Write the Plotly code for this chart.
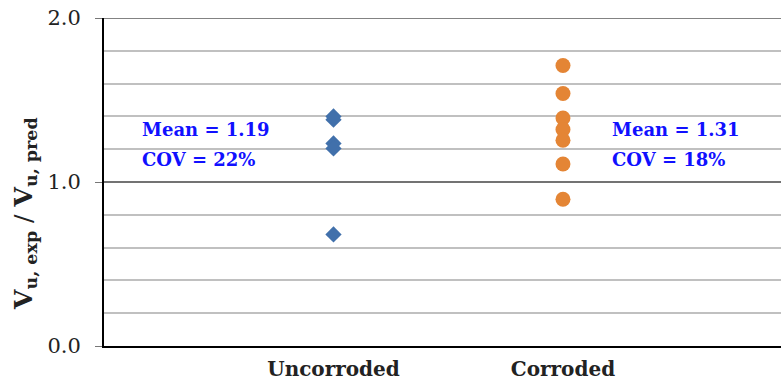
import plotly.graph_objects as go

categories = ["Uncorroded", "Corroded"]
uncorroded_vals = [1.40, 1.38, 1.235, 1.205, 0.68]
corroded_vals = [1.71, 1.54, 1.39, 1.32, 1.255, 1.11, 0.895]
mean_text = ["<b>Mean = 1.19</b>", "<b>Mean = 1.31</b>"]
cov_text = ["<b>COV = 22%</b>", "<b>COV = 18%</b>"]
y_ticks = [0, 1, 2]
y_ticktext = ["0.0", "1.0", "2.0"]

SERIF = "DejaVu Serif"

fig = go.Figure()
fig.add_trace(go.Scatter(
    x=[1] * len(uncorroded_vals), y=uncorroded_vals, mode="markers",
    marker=dict(symbol="diamond", size=12.5, color="#4170AB"),
    showlegend=False, cliponaxis=False))
fig.add_trace(go.Scatter(
    x=[2] * len(corroded_vals), y=corroded_vals, mode="markers",
    marker=dict(symbol="circle", size=15, color="#E48535"),
    showlegend=False, cliponaxis=False))

fig.update_layout(
    width=781, height=380,
    margin=dict(l=104, r=0, t=18, b=34),
    plot_bgcolor="white", paper_bgcolor="white",
    xaxis=dict(range=[0, 2.95], tickvals=[1, 2], ticktext=categories,
               showgrid=False, zeroline=False, showline=True, linecolor="black",
               linewidth=2, ticks="",
               tickfont=dict(family=SERIF, size=20, color="#222", weight="bold"),
               ticklabelstandoff=4),
    yaxis=dict(range=[0, 2], tickvals=y_ticks, ticktext=y_ticktext,
               showgrid=False, dtick=0.2,
               minor=dict(dtick=0.2, showgrid=True, gridcolor="#c0c0c0", gridwidth=1.5),
               zeroline=False, showline=True, linecolor="black", linewidth=2,
               ticks="outside", ticklen=7, tickcolor="#777", tickwidth=1.3,
               tickfont=dict(family=SERIF, size=21, color="#222"),
               ticklabelstandoff=10, ticklabeloverflow="allow"),
)

# darker major gridlines at the labelled ticks
for v in y_ticks[1:]:
    fig.add_shape(type="line", xref="paper", yref="y", x0=0, x1=1, y0=v, y1=v,
                  line=dict(color="#5a5a5a", width=1.5), layer="above")

for i, xp in enumerate([0.053, 0.748]):
    fig.add_annotation(x=xp, y=1.323, xref="paper", yref="y",
                       text=mean_text[i], showarrow=False, xanchor="left",
                       font=dict(family=SERIF, size=18, color="#1010FF"))
    fig.add_annotation(x=xp, y=1.14, xref="paper", yref="y",
                       text=cov_text[i], showarrow=False, xanchor="left",
                       font=dict(family=SERIF, size=18, color="#1010FF"))

fig.add_annotation(x=-0.117, y=0.405, xref="paper", yref="paper", textangle=-90,
                   xanchor="center", yanchor="middle",
                   text="<b>V</b><sub><b>u, exp</b></sub> / <b>V</b><sub><b>u, pred</b></sub>",
                   showarrow=False, font=dict(family=SERIF, size=25, color="#222"))

fig.write_html("out.html", config={"displayModeBar": False},
               post_script="document.body.style.margin='0';document.body.style.overflow='hidden';")
